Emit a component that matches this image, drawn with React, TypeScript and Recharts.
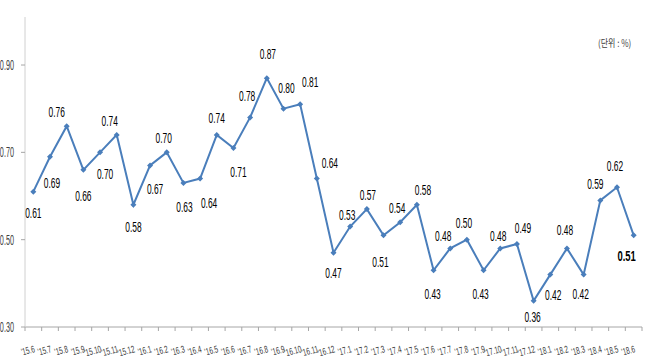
import React from "react";
import { LineChart, Line, XAxis, YAxis, LabelList } from "recharts";

const months = [
  "'15.6", "'15.7", "'15.8", "'15.9", "'15.10", "'15.11", "'15.12",
  "'16.1", "'16.2", "'16.3", "'16.4", "'16.5", "'16.6", "'16.7", "'16.8", "'16.9", "'16.10", "'16.11", "'16.12",
  "'17.1", "'17.2", "'17.3", "'17.4", "'17.5", "'17.6", "'17.7", "'17.8", "'17.9", "'17.10", "'17.11", "'17.12",
  "'18.1", "'18.2", "'18.3", "'18.4", "'18.5", "'18.6",
];

const rates = [
  0.61, 0.69, 0.76, 0.66, 0.7, 0.74, 0.58,
  0.67, 0.7, 0.63, 0.64, 0.74, 0.71, 0.78, 0.87, 0.8, 0.81, 0.64, 0.47,
  0.53, 0.57, 0.51, 0.54, 0.58, 0.43, 0.48, 0.5, 0.43, 0.48, 0.49, 0.36,
  0.42, 0.48, 0.42, 0.59, 0.62, 0.51,
];

const yTicks = [0.3, 0.5, 0.7, 0.9];

// label nudges [dx, dy] from each point (label styling only)
const labelNudge: [number, number][] = [
  [0, 21], [2, 26], [-10, -14], [0, 26], [5, 22], [-7, -14], [0, 22],
  [5, 24], [-3, -14], [1, 24], [9, 24], [0, -17], [5, 24], [-3, -21], [1, -24], [3, -21], [10, -22], [13, -16], [0, 20],
  [-3, -12], [1, -14], [-3, 27], [-3, -14], [6, -15], [-1, 24], [-7, -12], [-3, -17], [-3, 24], [-2, -12], [6, -16], [-1, 16],
  [3, 20], [-2, -18], [-3, 19], [-5, -16], [-2, -21], [-7, 21],
];

const data = months.map((m, i) => ({ month: m, rate: rates[i] }));

const FONT = "'Liberation Sans', Arial, sans-serif";
const BLUE = "#4a7ebb";
const STEP = 617 / months.length;

const XTick = (props: any) => {
  const { x, y, payload, index } = props;
  return (
    <g transform={`translate(${x},${y})`}>
      <line x1={-STEP / 2} y1={0} x2={-STEP / 2} y2={4} stroke="#a6a6a6" />
      {index === months.length - 1 && (
        <line x1={STEP / 2} y1={0} x2={STEP / 2} y2={4} stroke="#a6a6a6" />
      )}
      <text
        transform={`translate(2,25) rotate(-15) scale(0.64,1)`}
        textAnchor="end"
        fontSize={10}
        fontFamily={FONT}
        fill="#404040"
      >
        {payload.value}
      </text>
    </g>
  );
};

const YTick = (props: any) => {
  const { x, y, payload } = props;
  return (
    <text
      transform={`translate(${x - 5},${y + 5}) scale(0.52,1)`}
      textAnchor="end"
      fontSize={14}
      fontFamily={FONT}
      fill="#404040"
    >
      {payload.value.toFixed(2)}
    </text>
  );
};

const Diamond = (props: any) => {
  const { cx, cy } = props;
  if (cx == null || cy == null) return null;
  const r = 3;
  return (
    <polygon
      points={`${cx},${cy - r} ${cx + r},${cy} ${cx},${cy + r} ${cx - r},${cy}`}
      fill={BLUE}
    />
  );
};

const ValueLabel = (props: any) => {
  const { x, y, value, index } = props;
  const [dx, dy] = labelNudge[index];
  const last = index === rates.length - 1;
  return (
    <text
      transform={`translate(${x + dx},${y + dy + 5}) scale(${last ? 0.63 : 0.6},1)`}
      textAnchor="middle"
      fontSize={last ? 15 : 14}
      fontWeight={last ? "bold" : "normal"}
      fontFamily={FONT}
      fill="#000"
    >
      {Number(value).toFixed(2)}
    </text>
  );
};

export default function App() {
  return (
    <div style={{ position: "absolute", left: 0, top: 0, width: 647, height: 360, background: "#fff" }}>
      <LineChart width={647} height={360} data={data} margin={{ top: 17, right: 5, left: 0, bottom: 3 }}>
        <XAxis
          dataKey="month"
          interval={0}
          padding={{ left: STEP / 2, right: STEP / 2 }}
          tick={<XTick />}
          tickLine={false}
          tickSize={0}
          tickMargin={0}
          height={30}
          axisLine={{ stroke: "#a6a6a6" }}
        />
        <YAxis
          domain={[0.3, 1.01]}
          ticks={yTicks}
          width={25}
          tick={<YTick />}
          tickSize={4}
          tickLine={{ stroke: "#a6a6a6" }}
          axisLine={{ stroke: "#d0d0d0" }}
          allowDataOverflow
        />
        <Line
          dataKey="rate"
          stroke={BLUE}
          strokeWidth={2}
          dot={<Diamond />}
          activeDot={false}
          isAnimationActive={false}
        >
          <LabelList dataKey="rate" content={<ValueLabel />} />
        </Line>
      </LineChart>
      <div
        style={{
          position: "absolute",
          left: 598,
          top: 35,
          fontSize: 10,
          fontFamily: "'Noto Sans CJK KR', sans-serif",
          color: "#404040",
          transform: "scaleX(0.8)",
          transformOrigin: "left top",
          whiteSpace: "nowrap",
        }}
      >
        (단위 : %)
      </div>
    </div>
  );
}
